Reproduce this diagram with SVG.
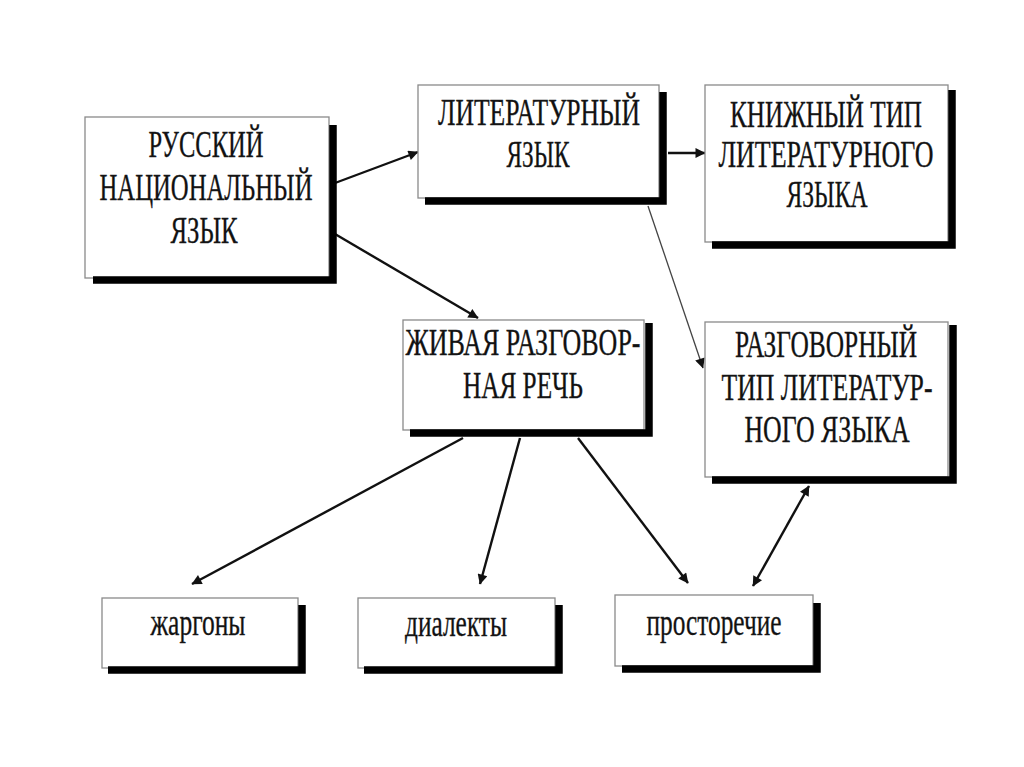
<svg xmlns="http://www.w3.org/2000/svg" width="1024" height="767" viewBox="0 0 1024 767">
<style>
.frame{fill:#fff;stroke:#8a8a8a;stroke-width:1.3}
.shadow{fill:none;stroke:#000;stroke-width:7.5;stroke-linejoin:miter}
.t{font-family:"Liberation Serif","Times New Roman","DejaVu Serif",serif;font-size:37px;fill:#111;stroke:#222;stroke-width:0.35;text-anchor:middle}
.c{fill:none;stroke:#111;stroke-width:2.4}
.thin{stroke:#444;stroke-width:1.3}
</style>
<defs>
<marker id="ah" viewBox="0 0 10 10" refX="9.5" refY="5" markerWidth="14" markerHeight="10" markerUnits="userSpaceOnUse" orient="auto-start-reverse"><path d="M0,0 L10,5 L0,10 z" fill="#111"/></marker>
</defs>
<rect width="1024" height="767" fill="#fff"/>
<g id="connectors">
<line class="c" x1="335" y1="183" x2="418" y2="152" marker-end="url(#ah)"/>
<line class="c" x1="335" y1="234" x2="478" y2="318" marker-end="url(#ah)"/>
<line class="c" x1="668" y1="153" x2="705" y2="153" marker-end="url(#ah)"/>
<line class="c thin" x1="648" y1="206" x2="703" y2="368" marker-end="url(#ah)"/>
<line class="c" x1="463" y1="438" x2="192" y2="584" marker-end="url(#ah)"/>
<line class="c" x1="520" y1="438" x2="480" y2="584" marker-end="url(#ah)"/>
<line class="c" x1="578" y1="438" x2="688" y2="583" marker-end="url(#ah)"/>
<line class="c" x1="809" y1="486" x2="753" y2="586" marker-start="url(#ah)" marker-end="url(#ah)"/>
</g>
<g id="russian">
<rect class="frame" x="85" y="117" width="244" height="161"/>
<path class="shadow" d="M333,125 V280 H93"/>
<text class="t" x="206" y="157" textLength="115" lengthAdjust="spacingAndGlyphs">РУССКИЙ</text>
<text class="t" x="206" y="200" textLength="213" lengthAdjust="spacingAndGlyphs">НАЦИОНАЛЬНЫЙ</text>
<text class="t" x="204" y="243" textLength="67" lengthAdjust="spacingAndGlyphs">ЯЗЫК</text>
</g>
<g id="literary">
<rect class="frame" x="418" y="85" width="241" height="113"/>
<path class="shadow" d="M663,92 V201 H425"/>
<text class="t" x="539" y="125" textLength="202" lengthAdjust="spacingAndGlyphs">ЛИТЕРАТУРНЫЙ</text>
<text class="t" x="538" y="167" textLength="63" lengthAdjust="spacingAndGlyphs">ЯЗЫК</text>
</g>
<g id="bookish">
<rect class="frame" x="705" y="85" width="243" height="157"/>
<path class="shadow" d="M952,90 V245 H712"/>
<text class="t" x="826" y="127" textLength="192" lengthAdjust="spacingAndGlyphs">КНИЖНЫЙ ТИП</text>
<text class="t" x="826" y="167" textLength="215" lengthAdjust="spacingAndGlyphs">ЛИТЕРАТУРНОГО</text>
<text class="t" x="827" y="207" textLength="81" lengthAdjust="spacingAndGlyphs">ЯЗЫКА</text>
</g>
<g id="living">
<rect class="frame" x="403" y="320" width="241" height="110"/>
<path class="shadow" d="M649,323 V433 H410"/>
<text class="t" x="523" y="355" textLength="235" lengthAdjust="spacingAndGlyphs">ЖИВАЯ РАЗГОВОР-</text>
<text class="t" x="523" y="398" textLength="120" lengthAdjust="spacingAndGlyphs">НАЯ РЕЧЬ</text>
</g>
<g id="colloquial">
<rect class="frame" x="705" y="322" width="243" height="155"/>
<path class="shadow" d="M953,325 V480 H712"/>
<text class="t" x="826" y="357" textLength="182" lengthAdjust="spacingAndGlyphs">РАЗГОВОРНЫЙ</text>
<text class="t" x="827" y="400" textLength="211" lengthAdjust="spacingAndGlyphs">ТИП ЛИТЕРАТУР-</text>
<text class="t" x="827" y="442" textLength="165" lengthAdjust="spacingAndGlyphs">НОГО  ЯЗЫКА</text>
</g>
<g id="jargons">
<rect class="frame" x="102" y="598" width="196" height="70"/>
<path class="shadow" d="M302,605 V670 H108"/>
<text class="t" x="198" y="635" textLength="95" lengthAdjust="spacingAndGlyphs">жаргоны</text>
</g>
<g id="dialects">
<rect class="frame" x="358" y="598" width="197" height="70"/>
<path class="shadow" d="M559,605 V670 H364"/>
<text class="t" x="456" y="636" textLength="102" lengthAdjust="spacingAndGlyphs">диалекты</text>
</g>
<g id="vernacular">
<rect class="frame" x="615" y="595" width="198" height="71"/>
<path class="shadow" d="M817,603 V669 H622"/>
<text class="t" x="714" y="635" textLength="135" lengthAdjust="spacingAndGlyphs">просторечие</text>
</g>
</svg>
